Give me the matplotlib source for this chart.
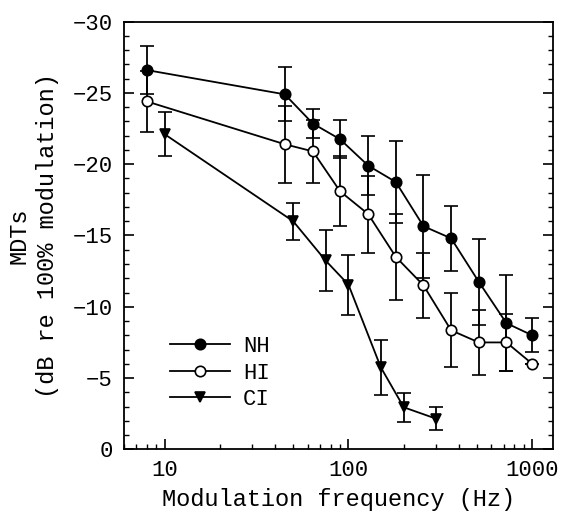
import matplotlib
matplotlib.use('Agg')
import matplotlib.pyplot as plt
from matplotlib.ticker import LogLocator, FixedLocator, NullFormatter, MultipleLocator

plt.rcParams['font.family'] = ['Liberation Mono', 'DejaVu Sans Mono']

# NH data
nh_freq = [8, 45, 64, 90, 128, 181, 256, 362, 512, 724, 1000]
nh_mdt = [-26.6, -24.9, -22.85, -21.75, -19.9, -18.75, -15.65, -14.8, -11.75, -8.85, -8.0]
nh_err = [1.7, 1.9, 1.0, 1.35, 2.05, 2.85, 3.6, 2.3, 3.0, 3.35, 1.2]

# HI data
hi_freq = [8, 45, 64, 90, 128, 181, 256, 362, 512, 724, 1000]
hi_mdt = [-24.4, -21.4, -20.9, -18.1, -16.5, -13.5, -11.5, -8.35, -7.5, -7.5, -6.0]
hi_err = [2.15, 2.7, 2.2, 2.45, 2.7, 3.0, 2.3, 2.6, 2.25, 2.0, 0.0]

# CI data
ci_freq = [10, 50, 75, 100, 150, 200, 300]
ci_mdt = [-22.1, -16.0, -13.25, -11.55, -5.75, -2.95, -2.15]
ci_err = [1.55, 1.3, 2.15, 2.1, 1.95, 1.0, 0.8]

fig = plt.figure(figsize=(5.61, 5.21), dpi=100)
ax = fig.add_axes([0.221, 0.1375, 0.765, 0.821])

common = dict(color='black', lw=1.3, capsize=5, elinewidth=1.3, capthick=1.3,
              markersize=7.5, markeredgewidth=1.2)
ax.errorbar(nh_freq, nh_mdt, yerr=nh_err, marker='o', mfc='black', mec='black',
            label='NH', **common)
ax.errorbar(hi_freq, hi_mdt, yerr=hi_err, marker='o', mfc='white', mec='black',
            label='HI', **common)
ax.errorbar(ci_freq, ci_mdt, yerr=ci_err, marker='v', mfc='black', mec='black',
            label='CI', **common)

ax.set_xscale('log')
ax.set_xlim(6, 1300)
ax.set_ylim(0, -30)
ax.xaxis.set_major_locator(FixedLocator([10, 100, 1000]))
ax.xaxis.set_minor_locator(LogLocator(base=10, subs=range(2, 10), numticks=20))
ax.xaxis.set_minor_formatter(NullFormatter())
ax.set_xticklabels(['10', '100', '1000'])
ax.yaxis.set_major_locator(MultipleLocator(5))
ax.yaxis.set_minor_locator(MultipleLocator(1))

ax.tick_params(axis='both', which='both', direction='in', labelsize=16)
ax.tick_params(axis='y', which='both', right=True)
ax.tick_params(axis='both', which='major', length=7, width=1.2, pad=8)
ax.tick_params(axis='both', which='minor', length=3.5, width=1.0)
for s in ax.spines.values():
    s.set_linewidth(1.3)

ax.set_xlabel('Modulation frequency (Hz)', fontsize=17, labelpad=5)
ax.set_ylabel('MDTs\n(dB re 100% modulation)', fontsize=17, labelpad=10,
              linespacing=1.3)

handles, labels = ax.get_legend_handles_labels()
handles = [h[0] for h in handles]
ax.legend(handles, labels, loc='lower left', bbox_to_anchor=(0.06, 0.045),
          frameon=False, fontsize=16, handlelength=2.7, handletextpad=0.6,
          labelspacing=0.25)

fig.savefig('out.png', dpi=100)
